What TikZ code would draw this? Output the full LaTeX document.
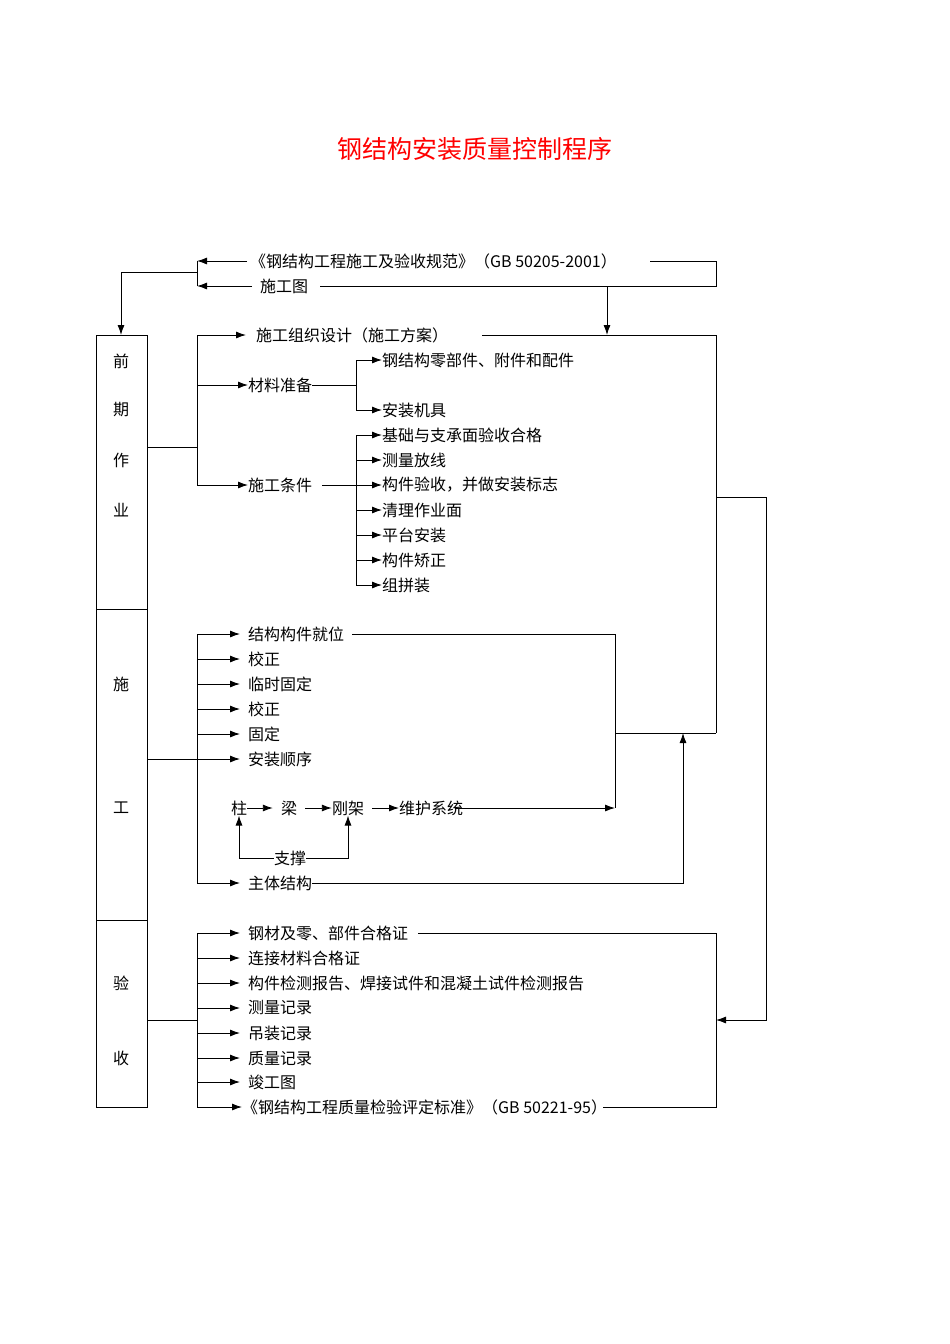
\documentclass[tikz,border=0pt]{standalone}
\usepackage{fontspec}
\setmainfont{Noto Sans CJK SC}
\usetikzlibrary{arrows.meta}
\tikzset{
  txt/.style={anchor=west,inner sep=0pt,font=\fontsize{16}{16}\selectfont},
  lbl/.style={inner sep=0pt,font=\fontsize{16}{16}\selectfont},
  ln/.style={line width=0.9pt},
  arr/.style={ln,-{Latex[length=10pt,width=7pt]}},
}
\begin{document}
\begin{tikzpicture}[x=1pt,y=-1pt]
\useasboundingbox (0,0) rectangle (950,1344);
\node[font=\fontsize{25}{25}\selectfont,text=red] (title) at (475,149) {钢结构安装质量控制程序};
% top inputs
\node[txt] (gb) at (250,261) {《钢结构工程施工及验收规范》（GB 50205-2001）};
\node[txt] (tu) at (260,286) {施工图};
\draw[ln] (650,261) -- (716,261) -- (716,286) -- ([xshift=12pt]tu.east);
\draw[arr] ([xshift=-3pt]gb.west) -- (197,261);
\draw[arr] ([xshift=-8pt]tu.west) -- (197,286);
\draw[ln] (197,261) -- (197,286);
% boxes
\draw[ln] (96,335) rectangle (147,609);
\draw[ln] (96,609) rectangle (147,920);
\draw[ln] (96,920) rectangle (147,1107);
\draw[arr] (197,272) -- (121,272) -- (121,335);
\draw[arr] (607,286) -- (607,335);
\foreach \t/\y in {前/361,期/410,作/460,业/510,施/684,工/808,验/983,收/1058}
  \node[lbl] at (121,\y) {\t};
% stage 1
\node[txt] (zz) at (256,335) {施工组织设计（施工方案）};
\node[txt] (cl) at (248,385) {材料准备};
\node[txt] (tj) at (248,485) {施工条件};
\draw[ln] (147,447) -- (197,447);
\draw[ln] (197,335) -- (197,485);
\draw[arr] (197,335) -- ([xshift=-10pt]zz.west);
\draw[arr] (197,385) -- (cl.west);
\draw[arr] (197,485) -- (tj.west);
\draw[ln] ([xshift=34pt]zz.east) -- (716,335) -- (716,733);
\draw[ln] (cl.east) -- (356,385);
\draw[ln] (356,360) -- (356,410);
\node[txt] (m1) at (382,360) {钢结构零部件、附件和配件};
\node[txt] (m2) at (382,410) {安装机具};
\draw[arr] (356,360) -- (m1.west);
\draw[arr] (356,410) -- (m2.west);
\draw[ln] ([xshift=10pt]tj.east) -- (356,485);
\draw[ln] (356,435) -- (356,585);
\foreach \t/\y [count=\i] in {基础与支承面验收合格/435,测量放线/460,构件验收，并做安装标志/485,清理作业面/510,平台安装/535,构件矫正/560,组拼装/585}{
  \node[txt] (c\i) at (382,\y) {\t};
  \draw[arr] (356,\y) -- (c\i.west);
}
% stage 2
\draw[ln] (197,634) -- (197,883);
\foreach \t/\y [count=\i] in {结构构件就位/634,校正/659,临时固定/684,校正/709,固定/734,安装顺序/759}{
  \node[txt] (s\i) at (248,\y) {\t};
  \draw[arr] (197,\y) -- ([xshift=-8pt]s\i.west);
}
\draw[ln] (147,759) -- (197,759);
\draw[ln] ([xshift=8pt]s1.east) -- (615,634) -- (615,808);
\draw[ln] (615,733) -- (716,733);
\node[lbl] (zhu) at (239,808) {柱};
\node[lbl] (liang) at (289,808) {梁};
\node[lbl] (gj) at (348,808) {刚架};
\node[txt] (wh) at (399,808) {维护系统};
\draw[arr] (zhu.east) -- ([xshift=-8pt]liang.west);
\draw[arr] ([xshift=8pt]liang.east) -- (gj.west);
\draw[arr] ([xshift=8pt]gj.east) -- (wh.west);
\draw[arr] ([xshift=-8pt]wh.east) -- (615,808);
\node[lbl] (zc) at (290,858) {支撑};
\draw[arr] (zc.west) -- (239,858) -- (zhu.south);
\draw[arr] (zc.east) -- (348,858) -- (gj.south);
\node[txt] (zt) at (248,883) {主体结构};
\draw[arr] (197,883) -- ([xshift=-8pt]zt.west);
\draw[arr] (zt.east) -- (683,883) -- (683,733);
% feedback
\draw[arr] (716,497) -- (766,497) -- (766,1020) -- (716,1020);
% stage 3
\draw[ln] (147,1020) -- (197,1020);
\draw[ln] (197,933) -- (197,1107);
\foreach \t/\y [count=\i] in {钢材及零、部件合格证/933,连接材料合格证/958,构件检测报告、焊接试件和混凝土试件检测报告/983,测量记录/1008,吊装记录/1033,质量记录/1058,竣工图/1082}{
  \node[txt] (y\i) at (248,\y) {\t};
  \draw[arr] (197,\y) -- ([xshift=-8pt]y\i.west);
}
\node[txt] (y8) at (242,1107) {《钢结构工程质量检验评定标准》（GB 50221-95）};
\draw[arr] (197,1107) -- (y8.west);
\draw[ln] ([xshift=10pt]y1.east) -- (716,933) -- (716,1107) -- ([xshift=-4pt]y8.east);
\end{tikzpicture}
\end{document}
